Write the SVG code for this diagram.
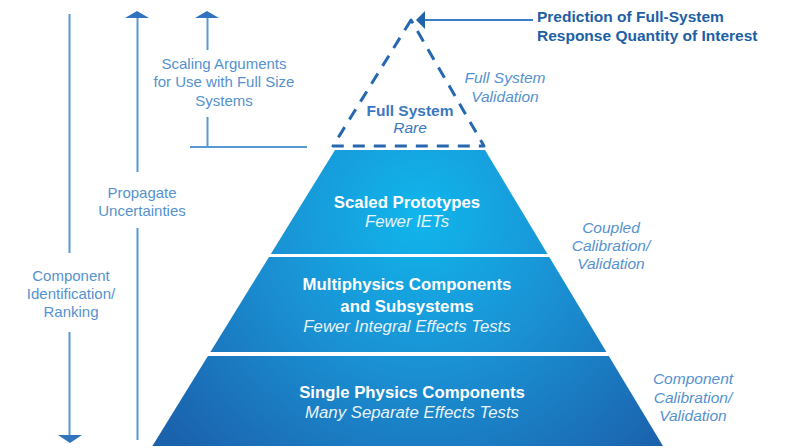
<svg xmlns="http://www.w3.org/2000/svg" width="785" height="448" viewBox="0 0 785 448">
<style>
.lbl{font-family:"Liberation Sans",Arial,sans-serif;font-size:15px;fill:#5592d0;text-anchor:middle}
.ital{font-family:"Liberation Sans",Arial,sans-serif;font-size:15.5px;font-style:italic;fill:#5592d0;text-anchor:middle}
.pb{font-family:"Liberation Sans",Arial,sans-serif;font-size:16.8px;font-weight:bold;fill:#ffffff;text-anchor:middle}
.pi{font-family:"Liberation Sans",Arial,sans-serif;font-size:16.8px;font-style:italic;fill:#e8f4fc;text-anchor:middle}
.ln{stroke:#5a98d4;stroke-width:2;fill:none}
.ah{fill:#2f74bd}
</style>
<defs>
<radialGradient id="g" gradientUnits="userSpaceOnUse" cx="420" cy="215" r="330">
<stop offset="0" stop-color="#10b6ec"/>
<stop offset="0.45" stop-color="#1a92d4"/>
<stop offset="1" stop-color="#1b62ad"/>
</radialGradient>
</defs>
<rect width="785" height="448" fill="#ffffff"/>
<g id="connectors">
<line class="ln" x1="69.5" y1="14" x2="69.5" y2="253"/>
<line class="ln" x1="69.5" y1="332" x2="69.5" y2="437"/>
<polygon class="ah" points="58,435 82,435 70,443"/>
<line class="ln" x1="137.5" y1="17" x2="137.5" y2="172"/>
<line class="ln" x1="137.5" y1="228" x2="137.5" y2="440"/>
<polygon class="ah" points="125,18 149,18 137,11"/>
<line class="ln" x1="207.5" y1="17" x2="207.5" y2="50"/>
<line class="ln" x1="207.5" y1="117" x2="207.5" y2="147"/>
<polygon class="ah" points="195,18 219,18 207,11"/>
<line class="ln" x1="190" y1="147" x2="307" y2="147"/>
<line x1="424" y1="20" x2="533" y2="20" stroke="#3c7fc6" stroke-width="2"/>
<polygon points="416,20 425,11 425,29" fill="#1f63ab"/>
</g>
<g id="full-system">
<polygon points="411,20 333,146 484,146" fill="none" stroke="#2668b0" stroke-width="3" stroke-dasharray="12 9" stroke-linejoin="round"/>
<text x="410" y="116" font-family="Liberation Sans, Arial, sans-serif" font-size="15.5px" font-weight="bold" fill="#3b78bf" text-anchor="middle">Full System</text>
<text x="410" y="133" font-family="Liberation Sans, Arial, sans-serif" font-size="15.5px" font-style="italic" fill="#3b78bf" text-anchor="middle">Rare</text>
</g>
<g id="scaled-prototypes">
<polygon points="335,150 485,150 547.5,254 270.8,254" fill="url(#g)"/>
<text class="pb" x="407" y="208">Scaled Prototypes</text>
<text class="pi" x="407" y="227">Fewer IETs</text>
</g>
<g id="multiphysics">
<polygon points="269,257 549.3,257 606.4,352 210.4,352" fill="url(#g)"/>
<text class="pb" x="407" y="290">Multiphysics Components</text>
<text class="pb" x="407" y="312">and Subsystems</text>
<text class="pi" x="407" y="332">Fewer Integral Effects Tests</text>
</g>
<g id="single-physics">
<polygon points="207.9,356 608.8,356 663,446 152.4,446" fill="url(#g)"/>
<text class="pb" x="412" y="398">Single Physics Components</text>
<text class="pi" x="412" y="418">Many Separate Effects Tests</text>
</g>
<g id="prediction">
<text x="537" y="22" font-family="Liberation Sans, Arial, sans-serif" font-size="15.5px" font-weight="bold" fill="#1d5fa5">Prediction of Full-System</text>
<text x="537" y="41" font-family="Liberation Sans, Arial, sans-serif" font-size="15.5px" font-weight="bold" fill="#1d5fa5">Response Quantity of Interest</text>
</g>
<g id="full-system-validation">
<text class="ital" x="505" y="83">Full System</text>
<text class="ital" x="505" y="102">Validation</text>
</g>
<g id="scaling-arguments">
<text class="lbl" x="224" y="69">Scaling Arguments</text>
<text class="lbl" x="224" y="87">for Use with Full Size</text>
<text class="lbl" x="224" y="106">Systems</text>
</g>
<g id="propagate">
<text class="lbl" x="142" y="198">Propagate</text>
<text class="lbl" x="142" y="216">Uncertainties</text>
</g>
<g id="component-id">
<text class="lbl" x="71" y="281">Component</text>
<text class="lbl" x="71" y="299">Identification/</text>
<text class="lbl" x="71" y="317">Ranking</text>
</g>
<g id="coupled">
<text class="ital" x="611" y="233">Coupled</text>
<text class="ital" x="611" y="251">Calibration/</text>
<text class="ital" x="611" y="269">Validation</text>
</g>
<g id="component-cal">
<text class="ital" x="693" y="384">Component</text>
<text class="ital" x="693" y="403">Calibration/</text>
<text class="ital" x="693" y="421">Validation</text>
</g>
</svg>
